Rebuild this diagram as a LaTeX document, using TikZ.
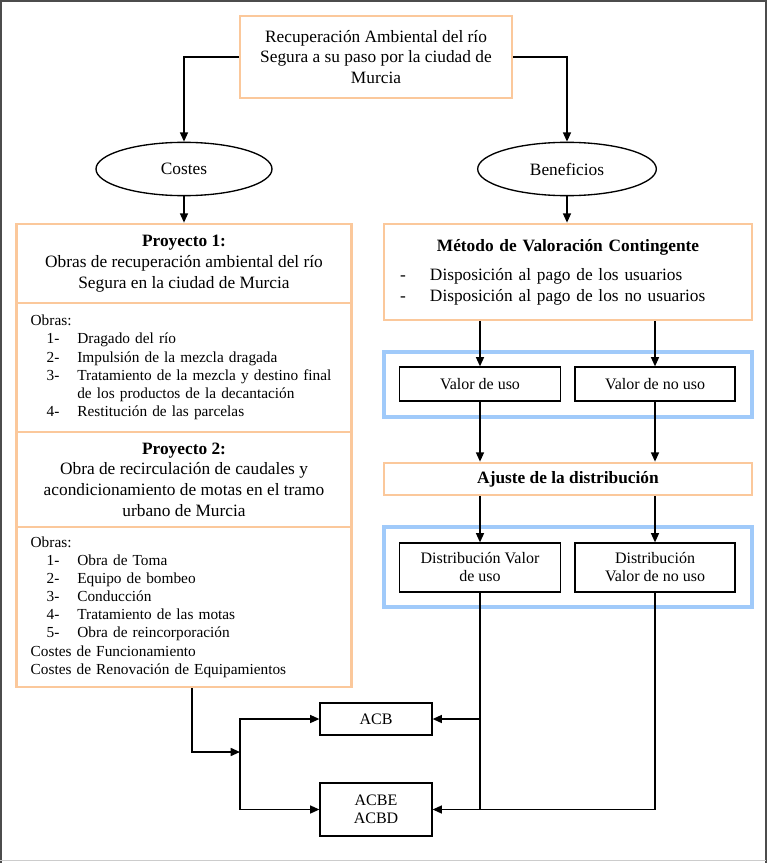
\documentclass[tikz,border=0pt]{standalone}
\usepackage{fontspec}
\setmainfont{Liberation Serif}
\usetikzlibrary{shapes.geometric,arrows.meta}
\definecolor{naranja}{RGB}{251,200,155}
\definecolor{azul}{RGB}{160,202,250}
\newcommand{\obra}[2]{\hspace*{12pt}\makebox[23pt][l]{#1}#2}
\tikzset{
	caja/.style={draw=naranja, line width=2pt, align=center, inner sep=0pt,
			font=\fontsize{13}{15.5}\selectfont},
	lista/.style={caja, align=left, inner xsep=10.5pt, text width=230pt,
			minimum width=251pt, font=\fontsize{11.5}{13.6}\selectfont},
	marco/.style={draw=azul, line width=2.5pt, minimum width=276pt},
	valor/.style={draw, line width=0.9pt, align=center, inner sep=0pt,
			font=\fontsize{12}{13.5}\selectfont},
	flecha/.style={line width=1.2pt, -{Triangle[length=7pt,width=6pt]}},
	linea/.style={line width=1.2pt}
}

\begin{document}
\begin{tikzpicture}[x=0.75pt, y=-0.75pt]
    \useasboundingbox (0,0) rectangle (768,863);
    % frame of the figure
    \draw[black!70, line width=1.5pt] (1,863) -- (1,1) -- (766,1) -- (766,863);
    \draw[black!20, line width=1pt] (0,860.5) -- (766,860.5);

    % Top box and the two branches
    \node[caja, minimum width=204pt, minimum height=61.5pt] (rio) at (376,57)
      {Recuperación Ambiental del río\\Segura a su paso por la ciudad de\\Murcia};
    \node[ellipse, draw, line width=1pt, minimum width=132pt, minimum height=40pt,
      font=\fontsize{13}{15.5}\selectfont] (costes) at (184,169) {Costes};
    \node[ellipse, draw, line width=1pt, minimum width=134pt, minimum height=40pt,
      font=\fontsize{13}{15.5}\selectfont] (benef) at (567,169) {Beneficios};

    % Costes: the two projects
    \node[caja, minimum width=251pt, minimum height=59.25pt] (p1) at (184,263.5)
      {\textbf{Proyecto 1:}\\Obras de recuperación ambiental del río\\Segura en la ciudad de Murcia};
    \node[lista, minimum height=96.75pt] (ob1) at (184,367.5)
      {Obras:\\
       \obra{1-}{Dragado del río}\\
       \obra{2-}{Impulsión de la mezcla dragada}\\
       \obra{3-}{Tratamiento de la mezcla y destino final}\\
       \obra{}{de los productos de la decantación}\\
       \obra{4-}{Restitución de las parcelas}};
    \node[caja, minimum width=251pt, minimum height=71.25pt] (p2) at (184,479.5)
      {\textbf{Proyecto 2:}\\Obra de recirculación de caudales y\\acondicionamiento de motas en el tramo\\urbano de Murcia};
    \node[lista, minimum height=120pt] (ob2) at (184,607)
      {Obras:\\
       \obra{1-}{Obra de Toma}\\
       \obra{2-}{Equipo de bombeo}\\
       \obra{3-}{Conducción}\\
       \obra{4-}{Tratamiento de las motas}\\
       \obra{5-}{Obra de reincorporación}\\
       Costes de Funcionamiento\\
       Costes de Renovación de Equipamientos};

    % Beneficios: contingent valuation
    \node[caja, minimum width=276pt, minimum height=72pt, align=left,
      text width=252pt] (metodo) at (568,272)
      {\makebox[252pt]{\textbf{Método de Valoración Contingente}}\\[6.5pt]
       \makebox[22.5pt][l]{-}Disposición al pago de los usuarios\\
       \makebox[22.5pt][l]{-}Disposición al pago de los no usuarios};
    \node[marco, minimum height=48.75pt] (marco1) at (568,384.5) {};
    \node[valor, minimum width=120.75pt, minimum height=25.5pt] (uso) at (480,384) {Valor de uso};
    \node[valor, minimum width=120pt, minimum height=25.5pt] (nouso) at (655,384) {Valor de no uso};
    \node[caja, minimum width=276pt, minimum height=24pt] (ajuste) at (568,479)
      {\textbf{Ajuste de la distribución}};
    \node[marco, minimum height=60pt] (marco2) at (568,567) {};
    \node[valor, minimum width=120.75pt, minimum height=36.75pt] (distuso) at (480,567.5)
      {Distribución Valor\\de uso};
    \node[valor, minimum width=120pt, minimum height=36.75pt] (distnouso) at (655,567.5)
      {Distribución\\Valor de no uso};

    % Results
    \node[valor, minimum width=84pt, minimum height=24pt] (acb) at (376,719) {ACB};
    \node[valor, minimum width=84pt, minimum height=39.75pt] (acbe) at (376,809.5) {ACBE\\ACBD};
    \coordinate (union) at (240,752);

    % Connectors
    \draw[flecha] (rio.west) -| (costes.north);
    \draw[flecha] (rio.east) -| (benef.north);
    \draw[flecha] (costes.south) -- (p1.north);
    \draw[flecha] (benef.south) -- (benef.south |- metodo.north);
    \foreach \v in {uso,nouso} {
      \draw[flecha] (\v.north |- metodo.south) -- (\v.north);
      \draw[flecha] (\v.south) -- (\v.south |- ajuste.north);
      \draw[flecha] (dist\v.north |- ajuste.south) -- (dist\v.north);
    }
    \draw[flecha] (distnouso.south) |- (acbe.east);
    \draw[linea] (distuso.south) -- (distuso.south |- acbe.east);
    \draw[flecha] (distuso.south |- acb.east) -- (acb.east);
    \draw[flecha] ([xshift=6pt]ob2.south) |- (union);
    \draw[flecha] (union) |- (acb.west);
    \draw[flecha] (union) |- (acbe.west);
\end{tikzpicture}
\end{document}
